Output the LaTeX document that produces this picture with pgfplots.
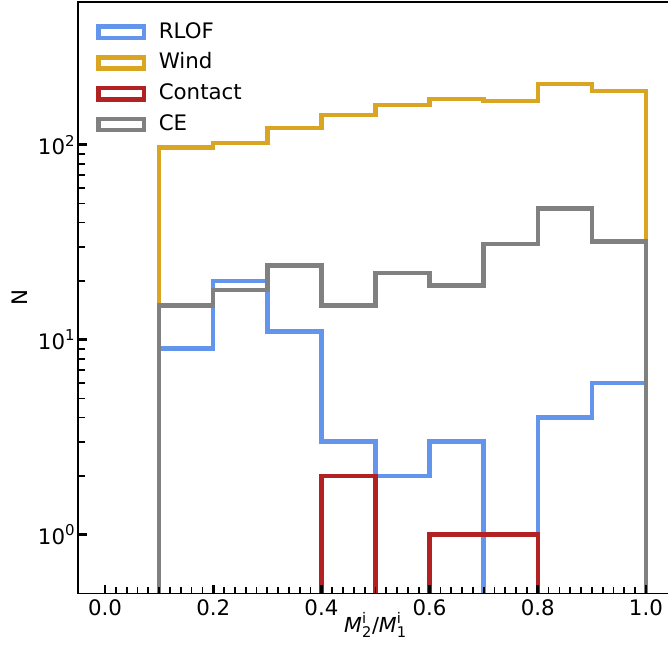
\documentclass[border=0pt]{standalone}
\usepackage{pgfplots}
\pgfplotsset{compat=1.18}
\usepackage{fontspec}
\setmainfont{DejaVu Sans}
\definecolor{rlof}{HTML}{6495ED}
\definecolor{wind}{HTML}{DAA520}
\definecolor{contact}{HTML}{B22222}
\definecolor{ce}{HTML}{808080}
\begin{document}
\begin{tikzpicture}
\begin{axis}[
  scale only axis, width=446.25pt, height=443.6pt,
  xmin=-0.05, xmax=1.05, ymode=log, ymin=0.5, ymax=540,
  axis on top, tick align=inside, tick pos=left,
  axis line style={line width=1.3pt},
  xtick={0,0.2,0.4,0.6,0.8,1.0},
  xticklabels={0.0,0.2,0.4,0.6,0.8,1.0},
  minor x tick num=9,
  ytick={1,10,100},
  yticklabels={{10\textsuperscript{0}},{10\textsuperscript{1}},{10\textsuperscript{2}}},
  major tick length=6.5pt, minor tick length=5pt,
  every major tick/.append style={line width=2pt, black},
  every minor tick/.append style={line width=1.3pt, black},
  tick label style={font=\fontsize{16}{19}\selectfont},
  xticklabel style={yshift=-1pt},
  yticklabel style={xshift=1.5pt},
  every axis x label/.style={at={(axis description cs:0.5,-0.066)}, anchor=base},
  every axis y label/.style={at={(axis description cs:-0.0986,0.5)}, rotate=90, anchor=center},
  xlabel={\fontsize{15.5}{18}\selectfont $\mbox{\itshape M}^{\mbox{\fontsize{11}{12}\selectfont i}}_{\mbox{\fontsize{11}{12}\selectfont 2}}$/$\mbox{\itshape M}^{\mbox{\fontsize{11}{12}\selectfont i}}_{\mbox{\fontsize{11}{12}\selectfont 1}}$},
  ylabel={\fontsize{16}{19}\selectfont N},
  legend style={at={(axis description cs:0,1)}, anchor=north west, xshift=13.5pt, yshift=-13.9pt,
    draw=none, fill=none, inner sep=0pt, row sep=4.6pt, column sep=7.5pt,
    font=\fontsize{16}{19}\selectfont,
    nodes={inner sep=2pt, text height=11pt, text depth=3.5pt}},
  legend cell align=left,
  legend image code/.code={\draw[#1, line width=3.4pt] (0pt,-3.5pt) rectangle (34pt,5pt);},
  const plot,
]
\addplot[color=rlof, line width=3.4pt] coordinates {
 (0.1,0.01) (0.1,9) (0.2,20) (0.3,11) (0.4,3) (0.5,2) (0.6,3) (0.7,0.01) (0.8,4) (0.9,6) (1.0,6) (1.0,0.01)};
\addlegendentry{RLOF}
\addplot[color=wind, line width=3.4pt] coordinates {
 (0.1,0.01) (0.1,97) (0.2,102) (0.3,122) (0.4,142) (0.5,160) (0.6,172) (0.7,168) (0.8,205) (0.9,189) (1.0,189) (1.0,0.01)};
\addlegendentry{Wind}
\addplot[color=contact, line width=3.4pt] coordinates {
 (0.4,0.01) (0.4,2) (0.5,0.01) (0.6,1) (0.7,1) (0.8,0.01) (1.0,0.01)};
\addlegendentry{Contact}
\addplot[color=ce, line width=3.4pt] coordinates {
 (0.1,0.01) (0.1,15) (0.2,18) (0.3,24) (0.4,15) (0.5,22) (0.6,19) (0.7,31) (0.8,47) (0.9,32) (1.0,32) (1.0,0.01)};
\addlegendentry{CE}
\coordinate (ll) at (rel axis cs:0,0);
\coordinate (ur) at (rel axis cs:1,1);
\end{axis}
\pgfresetboundingbox
\path ([xshift=-58.5pt,yshift=-43pt]ll) rectangle ([xshift=-3.75pt,yshift=1.5pt]ur);
\end{tikzpicture}
\end{document}
